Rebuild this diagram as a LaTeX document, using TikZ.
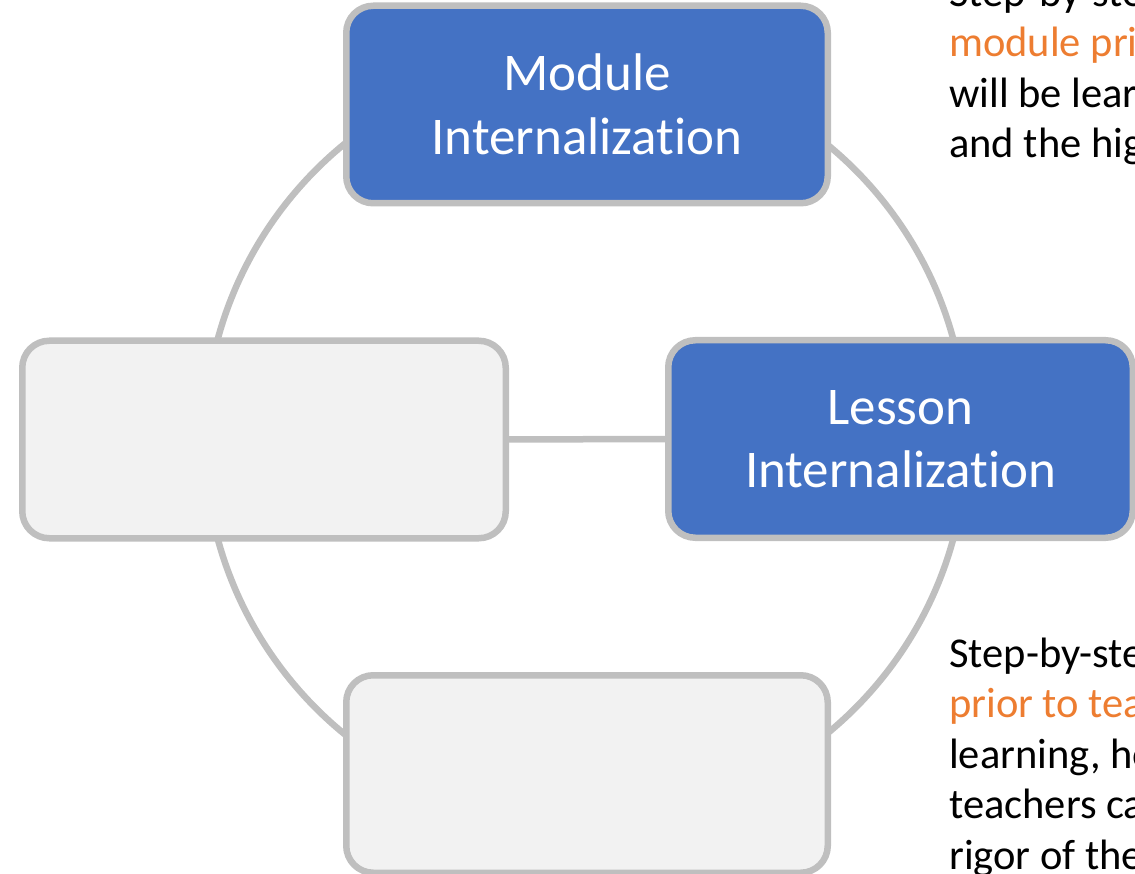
\documentclass[tikz,border=0pt]{standalone}
\usepackage{fontspec}
\setmainfont{Carlito}[Ligatures=NoCommon]
\definecolor{stageblue}{HTML}{4472C4}
\definecolor{ringgray}{HTML}{BFBFBF}
\definecolor{blankfill}{HTML}{F2F2F2}
\definecolor{noteorange}{HTML}{ED7D31}
\begin{document}
\begin{tikzpicture}[x=1pt,y=-1pt,
      stage/.style={draw=ringgray,line width=6.5pt,rounded corners=27pt,
        minimum width=481.5pt,minimum height=197.5pt,inner sep=0pt,
        align=center,text=white,font=\fontsize{53}{63.5}\selectfont},
      ring/.style={circle,draw=ringgray,line width=6.5pt,
        minimum size=762pt,inner sep=0pt},
      link/.style={draw=ringgray,line width=6.5pt},
      note/.style={inner sep=0pt,align=left,
        font=\fontsize{42.5}{50.5}\selectfont}]
      \useasboundingbox (0,0) rectangle (1135,874);
      \clip (0,0) rectangle (1135,874);
      \node[ring] (cycle) at (585.5,439) {};
      \node[stage,fill=stageblue] (module) at (587,104.5) {Module\\Internalization};
      \node[stage,fill=stageblue,minimum width=464.5pt] (lesson) at (900.5,439) {Lesson\\Internalization};
      \node[stage,fill=blankfill,minimum width=483.5pt] (left) at (264,439.5) {};
      \node[stage,fill=blankfill] (bottom) at (587,774) {};
      \draw[link] (left) -- (lesson);
      % base of a multi-line node is its last line
      \node[note,anchor=base west] (moduletext) at (949,158)
        {Step-by-step\\\textcolor{noteorange}{module prior}\\will be learned\\and the high};
      \node[note,anchor=base west] (lessontext) at (949,869)
        {Step-by-step\\\textcolor{noteorange}{prior to teaching}\\learning, how\\teachers can\\rigor of the};
\end{tikzpicture}
\end{document}
